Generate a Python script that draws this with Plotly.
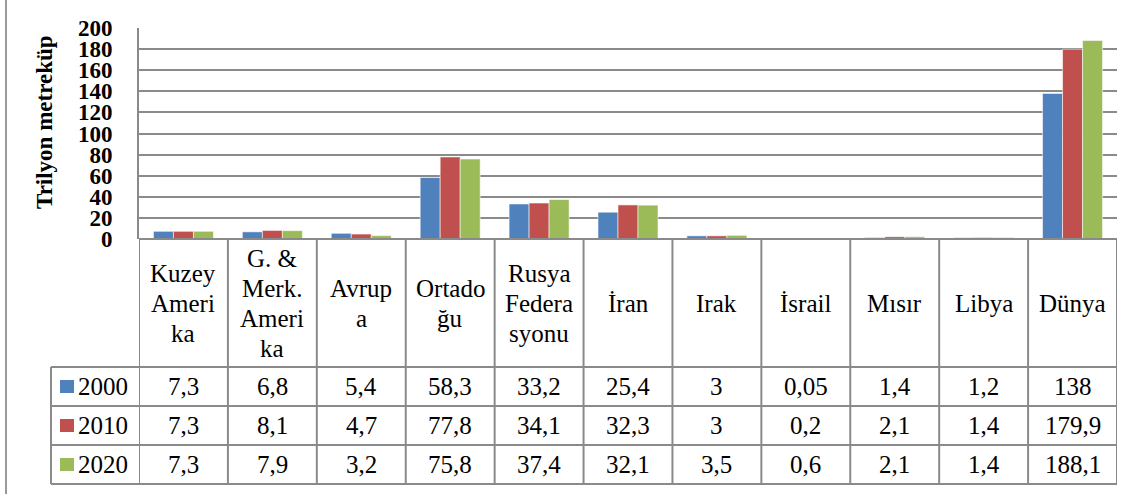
import plotly.graph_objects as go

categories = ["Kuzey<br>Ameri<br>ka", "G. &<br>Merk.<br>Ameri<br>ka", "Avrup<br>a", "Ortado<br>ğu",
              "Rusya<br>Federa<br>syonu", "İran", "Irak", "İsrail", "Mısır", "Libya", "Dünya"]
series_names = ["2000", "2010", "2020"]
values_2000 = [7.3, 6.8, 5.4, 58.3, 33.2, 25.4, 3, 0.05, 1.4, 1.2, 138]
values_2010 = [7.3, 8.1, 4.7, 77.8, 34.1, 32.3, 3, 0.2, 2.1, 1.4, 179.9]
values_2020 = [7.3, 7.9, 3.2, 75.8, 37.4, 32.1, 3.5, 0.6, 2.1, 1.4, 188.1]
y_title = "Trilyon metreküp"

series_values = [values_2000, values_2010, values_2020]
colors = ["#4F81BD", "#C0504D", "#9BBB59"]

W, H = 1143, 494
L, R, T, B = 139, 1117, 28, 239
FONT = "Liberation Serif, Times New Roman, serif"
GRID = "#8a8a8a"

def xp(px):
    return (px - L) / (R - L)

def yp(py):
    return (B - py) / (B - T)

n = len(categories)
xs = list(range(n))

fig = go.Figure()
for name, vals, col in zip(series_names, series_values, colors):
    fig.add_trace(go.Bar(x=xs, y=vals, name=name, marker_color=col,
                         marker_line_color="rgba(255,255,255,0.55)", marker_line_width=1,
                         hoverinfo="skip"))

shapes = []
annotations = []

# table geometry (pixels)
header_bottom = 367
row_edges = [367, 406, 445, 484]
legend_left = 51
tl = dict(color=GRID, width=2)

# horizontal lines
shapes.append(dict(type="line", xref="paper", yref="paper", x0=xp(L), x1=xp(R), y0=yp(B), y1=yp(B), line=tl))
for ry in row_edges:
    shapes.append(dict(type="line", xref="paper", yref="paper", x0=xp(legend_left), x1=xp(R),
                       y0=yp(ry), y1=yp(ry), line=tl))
# vertical lines
shapes.append(dict(type="line", xref="paper", yref="paper", x0=xp(legend_left), x1=xp(legend_left),
                   y0=yp(row_edges[0]), y1=yp(row_edges[-1]), line=tl))
for i in range(n + 1):
    shapes.append(dict(type="line", xref="x", yref="paper", x0=i - 0.5, x1=i - 0.5,
                       y0=yp(B), y1=yp(row_edges[-1]), line=tl))
# outer frame left edge
shapes.append(dict(type="line", xref="paper", yref="paper", x0=xp(6), x1=xp(6), y0=yp(0), y1=yp(H),
                   line=dict(color="#9a9a9a", width=2)))

# header labels (each line separately, Word-like line pitch)
pitch = 30
hc = (B + header_bottom) / 2
for i, cat in enumerate(categories):
    lines = cat.split("<br>")
    k = len(lines)
    for j, ln in enumerate(lines):
        cy = hc + (j - (k - 1) / 2) * pitch
        annotations.append(dict(x=i, xref="x", y=yp(cy), yref="paper", text=ln, showarrow=False,
                                xanchor="center", yanchor="middle",
                                font=dict(family=FONT, size=25, color="black")))

# values + legend keys
def fmt(v):
    return f"{v:g}".replace(".", ",")

for r, (name, vals, col) in enumerate(zip(series_names, series_values, colors)):
    cy = (row_edges[r] + row_edges[r + 1]) / 2
    for i, v in enumerate(vals):
        annotations.append(dict(x=i, xref="x", y=yp(cy), yref="paper", text=fmt(v), showarrow=False,
                                xanchor="center", yanchor="middle",
                                font=dict(family=FONT, size=25, color="black")))
    shapes.append(dict(type="rect", xref="paper", yref="paper", x0=xp(60), x1=xp(74),
                       y0=yp(cy - 6.5), y1=yp(cy + 6.5), fillcolor=col, line=dict(width=0)))
    annotations.append(dict(x=xp(76), xref="paper", y=yp(cy), yref="paper", text=name, showarrow=False,
                            xanchor="left", yanchor="middle",
                            font=dict(family=FONT, size=25, color="black")))

# y axis title
annotations.append(dict(x=xp(44), xref="paper", y=yp(122), yref="paper", text=f"<b>{y_title}</b>",
                        showarrow=False, textangle=-90, xanchor="center", yanchor="middle",
                        font=dict(family=FONT, size=23, color="black")))

fig.update_layout(
    width=W, height=H, autosize=False,
    margin=dict(l=L, r=W - R, t=T, b=H - B, pad=0),
    paper_bgcolor="white", plot_bgcolor="white",
    barmode="group", bargap=0.325, bargroupgap=0,
    showlegend=False,
    font=dict(family=FONT, color="black"),
    shapes=shapes, annotations=annotations,
    xaxis=dict(range=[-0.5, n - 0.5], showticklabels=False, showgrid=False, zeroline=False,
               showline=False, ticks=""),
    yaxis=dict(range=[0, 200], dtick=20, showgrid=True, gridcolor=GRID, gridwidth=2,
               zeroline=False, showline=True, linecolor=GRID, linewidth=2, ticks="",
               tickfont=dict(family=FONT, size=23, color="black", weight="bold"),
               ticklabelstandoff=20),
)

fig.write_html("out.html", config={"displayModeBar": False},
               post_script="document.body.style.margin='0px';")
